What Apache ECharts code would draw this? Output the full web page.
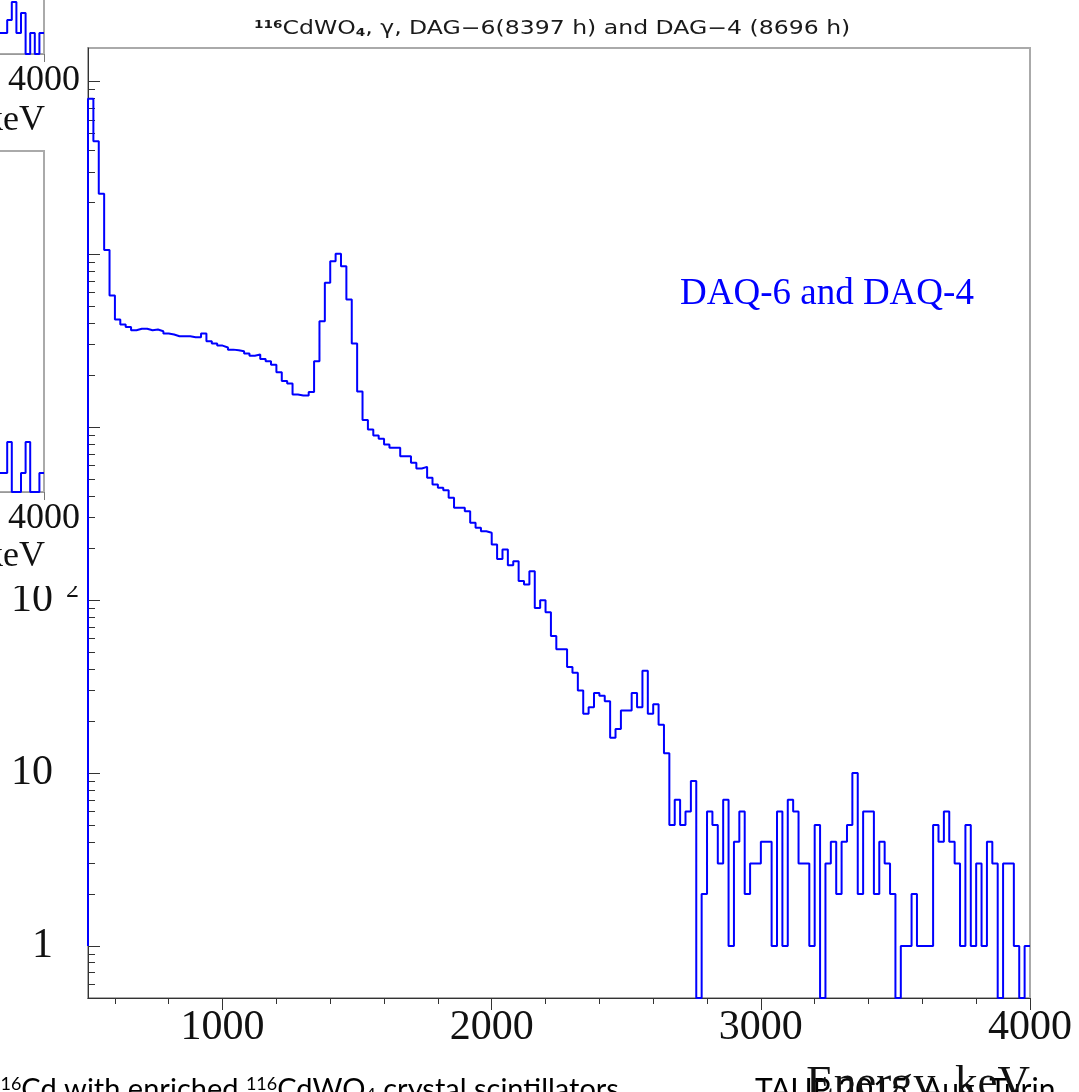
<!DOCTYPE html>
<html>
<head>
<meta charset="utf-8">
<script src="https://cdn.jsdelivr.net/npm/echarts@6/dist/echarts.min.js"></script>
<style>
html,body{margin:0;padding:0;background:#ffffff;}
#chart{width:1079px;height:1092px;}
</style>
</head>
<body>
<div id="chart"></div>
<script>
// ---------------- data ----------------
const binStart = 500;          // keV, first bin edge
const binWidth = 20;           // keV
const counts = [
  79400,45000,22400,10600,5770,4200,3930,3800,3640,3710,
  3710,3640,3670,3590,3480,3435,3360,3360,3360,3310,
  3310,3480,3140,3050,2965,2890,2810,2790,2750,2670,
  2590,2630,2480,2410,2300,2080,1850,1790,1545,1525,
  1525,1600,2410,4100,6840,9120,10090,8530,5470,3050,
  1610,1100,970,895,857,794,760,760,680,680,
  622,577,590,510,466,446,432,391,342,342,
  327,280,262,250,245,210,173,196,159,168,
  129,123,147,90,100,85,62,52,52,41,
  38,30,22,24,29,28,26,16,18,23,
  23,29,24,39,22,25,19,13,5,7,
  5,6,9,0,2,6,5,3,7,1,
  4,6,2,3,3,4,4,1,6,1,
  7,6,3,3,1,5,0,3,4,2,
  4,5,10,2,6,6,2,4,3,2,
  0,1,1,2,1,1,1,5,4,6,
  4,3,1,5,1,3,1,4,3,0,
  3,3,1,0,1
];
const leftEdgeLevel = 1;       // outline starts at 1 count at the left edge

const xMajorTicks = [1000, 2000, 3000, 4000];
const xMinorTicks = [600, 800, 1200, 1400, 1600, 1800, 2200, 2400, 2600, 2800,
                     3200, 3400, 3600, 3800];
const yMajorTicks = [1, 10, 100, 1000, 10000, 100000];
const yMinorTicks = [0.6, 0.7, 0.8, 0.9,
  2,3,4,5,6,7,8,9, 20,30,40,50,60,70,80,90,
  200,300,400,500,600,700,800,900, 2000,3000,4000,5000,6000,7000,8000,9000,
  20000,30000,40000,50000,60000,70000,80000,90000];
const yMin = 0.5, yMax = 156000;
const xMin = 500, xMax = 4000;

// partially visible neighbour panels on the slide (left edge)
const insetBinStart = 3800;
const insetBinWidth = 20;
const insetTopCounts = [2.1, 2.1, 3.4, 5.2, 2.1, 4.1, 0, 2.1, 0, 2.1];
const insetMidCounts = [1.9, 1.9, 5.0, 0, 0, 1.9, 5.0, 0, 0, 1.9];
const insetTicks = [4000];

const titleText = '{s|116}CdWO{u|4}, γ, DAG−6(8397 h) and DAG−4 (8696 h)';
const labelText = 'DAQ-6 and DAQ-4';
const xTitle = 'Energy, keV';
const footLeft = '{s|116}Cd with enriched {s|116}CdWO{u|4} crystal scintillators';
const footRight = 'TAUP 2015, Aug. Turin';

// ---------------- build step outlines ----------------
function stepPoints(start, width, vals, floor, firstLevel) {
  const pts = [];
  if (firstLevel !== undefined) pts.push([start, firstLevel]);
  vals.forEach((v, i) => pts.push([start + i * width, v > 0 ? v : floor]));
  pts.push([start + vals.length * width, vals[vals.length - 1] > 0 ? vals[vals.length - 1] : floor]);
  return pts;
}
const mainPts = stepPoints(binStart, binWidth, counts, yMin, leftEdgeLevel);
const insetTopPts = stepPoints(insetBinStart, insetBinWidth, insetTopCounts, 0);
const insetMidPts = stepPoints(insetBinStart, insetBinWidth, insetMidCounts, 0);

const serif = '"Liberation Serif", "DejaVu Serif", serif';
const blue = '#0000ff';
const axisDark = '#333333';
const frameGrey = '#aaaaaa';
const plain = v => String(v);

const chart = echarts.init(document.getElementById('chart'), null, {renderer: 'canvas'});

const option = {
  animation: false,
  backgroundColor: '#ffffff',
  grid: [
    {left: 88, right: 49, top: 48, bottom: 94, show: true, borderColor: frameGrey, borderWidth: 2,
     backgroundColor: 'transparent', outerBoundsMode: 'none', containLabel: false},
    {left: -2, width: 46, top: -46, height: 100, show: true, borderColor: frameGrey, borderWidth: 2,
     backgroundColor: 'transparent', outerBoundsMode: 'none', containLabel: false, z: 6},
    {left: -2, width: 46, top: 151, height: 341, show: true, borderColor: frameGrey, borderWidth: 2,
     backgroundColor: 'transparent', outerBoundsMode: 'none', containLabel: false, z: 6}
  ],
  xAxis: [
    {type: 'value', gridIndex: 0, position: 'bottom', min: xMin, max: xMax,
     axisLine: {show: true, onZero: false, lineStyle: {color: axisDark, width: 1}},
     axisTick: {show: true, inside: false, length: 12, customValues: xMajorTicks, lineStyle: {color: axisDark, width: 1}},
     axisLabel: {show: true, customValues: xMajorTicks, formatter: plain, margin: 9, fontFamily: serif, fontSize: 42, lineHeight: 42, color: '#111'},
     splitLine: {show: false}},
    {type: 'value', gridIndex: 0, position: 'bottom', min: xMin, max: xMax,
     axisLine: {show: false, onZero: false},
     axisTick: {show: true, inside: false, length: 6, customValues: xMinorTicks, lineStyle: {color: axisDark, width: 1}},
     axisLabel: {show: false}, splitLine: {show: false}},
    {type: 'value', gridIndex: 1, position: 'bottom', min: insetBinStart, max: insetBinStart + insetTopCounts.length * insetBinWidth, z: 7,
     axisLine: {show: true, onZero: false, lineStyle: {color: '#999', width: 1}},
     axisTick: {show: true, inside: false, length: 8, customValues: insetTicks, lineStyle: {color: '#777'}},
     axisLabel: {show: true, customValues: insetTicks, formatter: plain, margin: 9, fontFamily: serif, fontSize: 36, lineHeight: 36, color: '#111'},
     splitLine: {show: false}},
    {type: 'value', gridIndex: 2, position: 'bottom', min: insetBinStart, max: insetBinStart + insetMidCounts.length * insetBinWidth, z: 7,
     axisLine: {show: true, onZero: false, lineStyle: {color: '#999', width: 1}},
     axisTick: {show: true, inside: false, length: 8, customValues: insetTicks, lineStyle: {color: '#777'}},
     axisLabel: {show: true, customValues: insetTicks, formatter: plain, margin: 9, fontFamily: serif, fontSize: 36, lineHeight: 36, color: '#111'},
     splitLine: {show: false}}
  ],
  yAxis: [
    {type: 'log', logBase: 10, gridIndex: 0, position: 'left', min: yMin, max: yMax,
     axisLine: {show: true, onZero: false, lineStyle: {color: axisDark, width: 1}},
     axisTick: {show: true, inside: true, length: 12, customValues: yMajorTicks, lineStyle: {color: axisDark, width: 1}},
     axisLabel: {show: true, customValues: yMajorTicks, margin: 35, fontFamily: serif, fontSize: 42, lineHeight: 42, color: '#111',
                 formatter: v => (v === 1 ? '1' : '10')},
     splitLine: {show: false}, minorTick: {show: false}},
    {type: 'log', logBase: 10, gridIndex: 0, position: 'left', min: yMin, max: yMax,
     axisLine: {show: false, onZero: false},
     axisTick: {show: true, inside: true, length: 7, customValues: yMinorTicks, lineStyle: {color: axisDark, width: 1}},
     axisLabel: {show: false}, splitLine: {show: false}},
    {type: 'value', gridIndex: 1, min: 0, max: 10, show: false},
    {type: 'value', gridIndex: 2, min: 0, max: 34.1, show: false}
  ],
  series: [
    {type: 'line', name: 'DAQ-6 and DAQ-4', xAxisIndex: 0, yAxisIndex: 0, step: 'end',
     data: mainPts, showSymbol: false, symbol: 'none', clip: true, z: 3,
     lineStyle: {color: blue, width: 2}},
    {type: 'line', xAxisIndex: 2, yAxisIndex: 2, step: 'end', data: insetTopPts, symbol: 'none', clip: true, z: 8,
     lineStyle: {color: blue, width: 2}},
    {type: 'line', xAxisIndex: 3, yAxisIndex: 3, step: 'end', data: insetMidPts, symbol: 'none', clip: true, z: 8,
     lineStyle: {color: blue, width: 2}}
  ]
};
chart.setOption(option);

// ---------------- texts & overlays ----------------
const graphics = [
  // white slide area covering the far-left part (neighbour panels)
  {type: 'rect', silent: true, z: 5, shape: {x: 0, y: 0, width: 86, height: 586}, style: {fill: '#ffffff'}},
  {type: 'text', silent: true, z: 10, x: 45, y: 121,
   style: {text: xTitle, font: '36px ' + serif, fill: '#111', align: 'right', verticalAlign: 'middle'}},
  {type: 'text', silent: true, z: 10, x: 45, y: 557,
   style: {text: xTitle, font: '36px ' + serif, fill: '#111', align: 'right', verticalAlign: 'middle'}},
  // title
  {type: 'text', silent: true, z: 10, x: 254, y: 29, scaleX: 1.24,
   style: {text: titleText, font: '19px "DejaVu Sans"', fill: '#1a1a1a', align: 'left', verticalAlign: 'middle',
           rich: {s: {fontSize: 11, fontWeight: 'bold', fontFamily: 'DejaVu Sans', verticalAlign: 'top', fill: '#1a1a1a'},
                  u: {fontSize: 11, fontWeight: 'bold', fontFamily: 'DejaVu Sans', verticalAlign: 'bottom', fill: '#1a1a1a'}}}},
  // in-plot label
  {type: 'text', silent: true, z: 10, x: 680, y: 294,
   style: {text: labelText, font: '37px ' + serif, fill: blue, align: 'left', verticalAlign: 'middle'}},
  // slide footer
  {type: 'text', silent: true, z: 10, x: -10, y: 1090,
   style: {text: footLeft, font: '29px Lato', fill: '#000', align: 'left', verticalAlign: 'middle',
           rich: {s: {fontSize: 18, fontFamily: 'Lato', verticalAlign: 'top', fill: '#000'},
                  u: {fontSize: 18, fontFamily: 'Lato', verticalAlign: 'bottom', fill: '#000'}}}},
  {type: 'text', silent: true, z: 10, x: 755, y: 1090,
   style: {text: footRight, font: '30px Lato', fill: '#000', align: 'left', verticalAlign: 'middle'}},
  // x axis title
  {type: 'text', silent: true, z: 11, x: 1030, y: 1062,
   style: {text: xTitle, font: '45px ' + serif, fill: '#111', align: 'right', verticalAlign: 'top'}}
];
// exponents of the 10^n labels, placed through the axis scale
yMajorTicks.forEach(v => {
  if (v < 100) return;
  const py = chart.convertToPixel({yAxisIndex: 0}, v);
  graphics.push({type: 'text', silent: true, z: 4, x: 66, y: py - 10,
    style: {text: String(Math.round(Math.log10(v))), font: '26px ' + serif, fill: '#111', align: 'left', verticalAlign: 'middle'}});
});
chart.setOption({graphic: graphics});
</script>
</body>
</html>
